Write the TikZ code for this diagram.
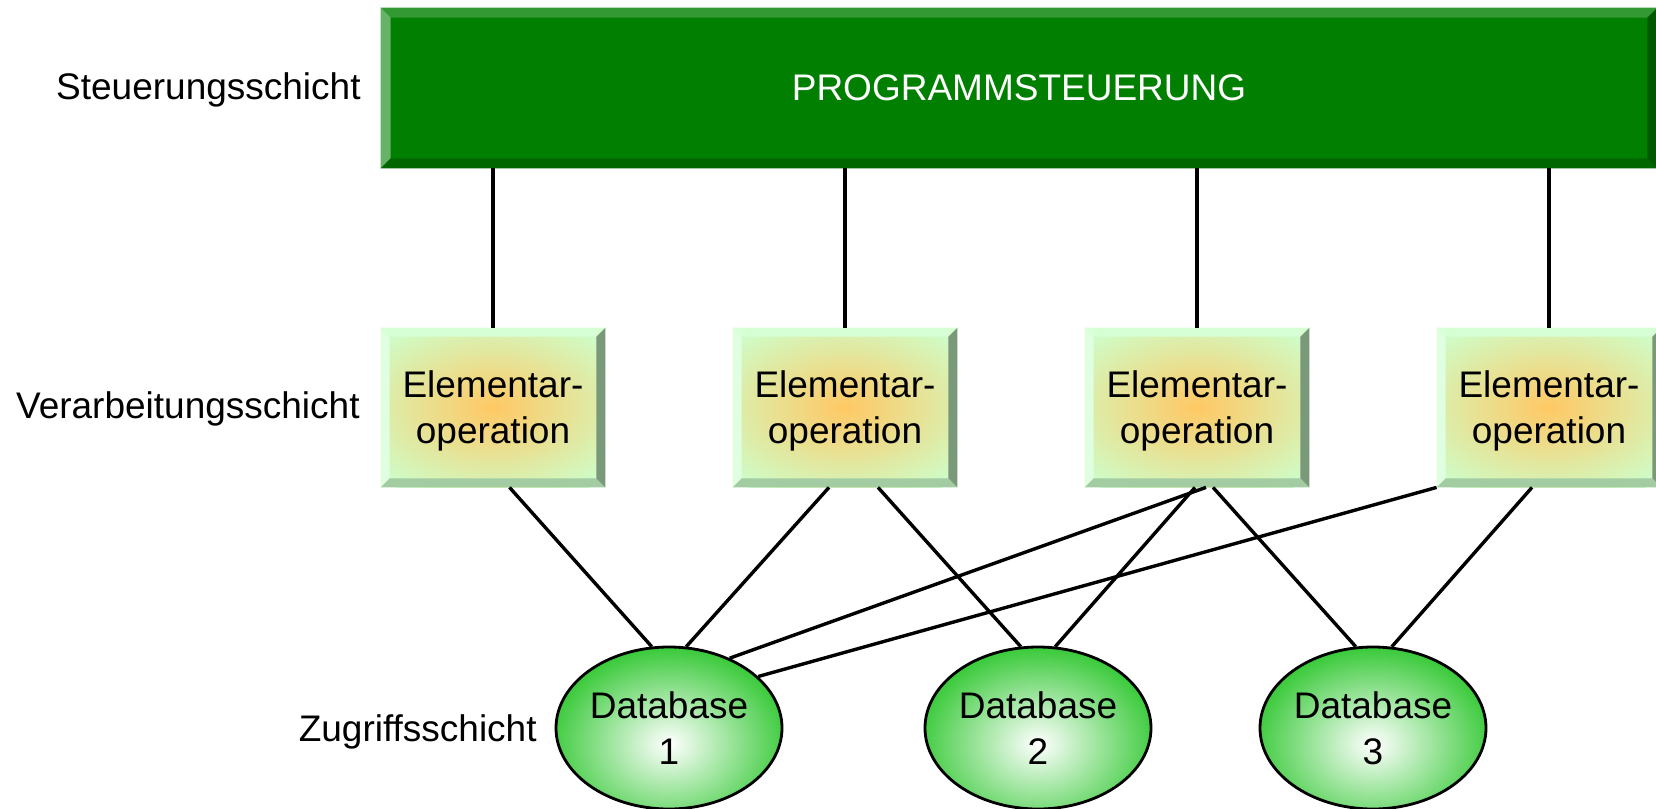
\documentclass[tikz,border=0pt]{standalone}
\usepackage{fontspec}
\setmainfont{Liberation Sans}
\usetikzlibrary{shapes.geometric,calc}
\definecolor{topgreen}{HTML}{007F00}
\definecolor{topT}{HTML}{339933}
\definecolor{topL}{HTML}{66B266}
\definecolor{topB}{HTML}{006600}
\definecolor{topR}{HTML}{005900}
\definecolor{opfill}{HTML}{CCFFCC}
\definecolor{opcore}{HTML}{FFC864}
\definecolor{opT}{HTML}{D6FFD6}
\definecolor{opL}{HTML}{E0FFE0}
\definecolor{opB}{HTML}{A3CCA3}
\definecolor{opR}{HTML}{7A997A}
\definecolor{dbgreen}{HTML}{33C833}
\newcommand\bevelframe[6]{%
  \fill[#3] (#1.north west) -- (#1.north east) -- ($(#1.north east)+(-#2,#2)$) -- ($(#1.north west)+(#2,#2)$) -- cycle;
  \fill[#4] (#1.north west) -- ($(#1.north west)+(#2,#2)$) -- ($(#1.south west)+(#2,-#2)$) -- (#1.south west) -- cycle;
  \fill[#5] (#1.south west) -- ($(#1.south west)+(#2,-#2)$) -- ($(#1.south east)+(-#2,-#2)$) -- (#1.south east) -- cycle;
  \fill[#6] (#1.south east) -- ($(#1.south east)+(-#2,-#2)$) -- ($(#1.north east)+(-#2,#2)$) -- (#1.north east) -- cycle;
}
\begin{document}
\begin{tikzpicture}[x=0.5pt,y=-0.5pt,
  txt/.style={font=\fontsize{18.5pt}{23pt}\selectfont, align=center},
  lbl/.style={txt, anchor=east, inner sep=0},
  topbox/.style={txt, rectangle, inner sep=0, fill=topgreen, text=white,
    minimum width=638pt, minimum height=80pt},
  opbox/.style={txt, rectangle, inner sep=0, fill=opfill, text depth=0pt,
    minimum width=112pt, minimum height=79.5pt,
    path picture={\shade[inner color=opcore, outer color=opfill]
      (path picture bounding box.center) ellipse (160 and 100);}},
  dbnode/.style={txt, ellipse, inner sep=0, draw=black, line width=1.4pt, fill=dbgreen,
    minimum width=113pt, minimum height=81pt,
    path picture={\shade[inner color=white, outer color=dbgreen]
      ($(path picture bounding box.center)+(0,16)$) ellipse (125 and 100);}},
  conn/.style={draw=black, line width=1.7pt}]
\useasboundingbox (0,0) rectangle (1656,809);

\node[topbox] (top) at (1019,88) {PROGRAMMSTEUERUNG};
\bevelframe{top}{10}{topT}{topL}{topB}{topR}

\node[opbox] (b1) at (493,407.5) {Elementar-\\operation};
\node[opbox] (b2) at (845,407.5) {Elementar-\\operation};
\node[opbox] (b3) at (1197,407.5) {Elementar-\\operation};
\node[opbox] (b4) at (1549,407.5) {Elementar-\\operation};
\foreach \b in {b1,b2,b3,b4}{\bevelframe{\b}{9}{opT}{opL}{opB}{opR}}

\node[dbnode] (d1) at (669,728) {Database\\1};
\node[dbnode] (d2) at (1038,728) {Database\\2};
\node[dbnode] (d3) at (1373,728) {Database\\3};

\node[lbl] (l1) at (361,90) {Steuerungsschicht};
\node[lbl] (l2) at (360,409) {Verarbeitungsschicht};
\node[lbl] (l3) at (537,732) {Zugriffsschicht};

\foreach \b in {b1,b2,b3,b4}{\draw[conn] (top.south -| \b.north) -- (\b.north);}

\draw[conn] ($(b1.south)+(16.5,0)$) -- (d1.102.7);
\draw[conn] ($(b2.south)+(-16,0)$) -- (d1.78);
\draw[conn] ($(b2.south)+(33,0)$) -- (d2.102.7);
\draw[conn] ($(b3.south)+(9,0)$) -- (d1.49.8);
\draw[conn] ($(b3.south)+(-2,0)$) -- (d2.78.5);
\draw[conn] ($(b3.south)+(16,0)$) -- (d3.102.7);
\draw[conn] (b4.south west) -- (d1.30.7);
\draw[conn] ($(b4.south)+(-17,0)$) -- (d3.77);
\end{tikzpicture}
\end{document}
